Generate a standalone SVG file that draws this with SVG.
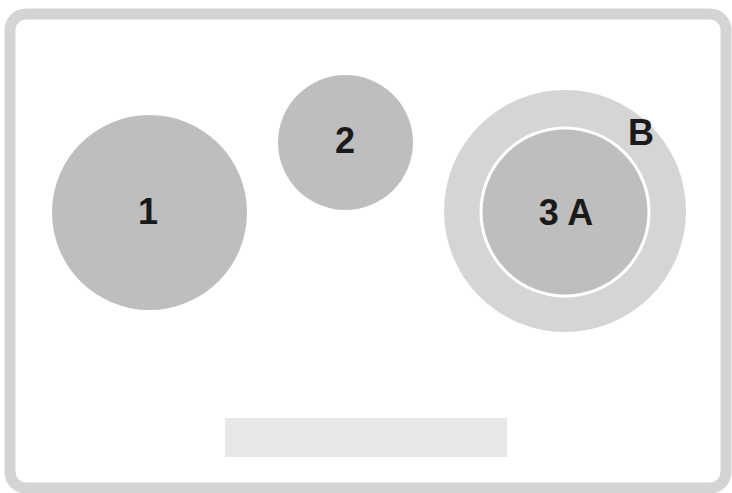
<svg xmlns="http://www.w3.org/2000/svg" width="732" height="493" viewBox="0 0 732 493">
<style>
.lbl{font-family:"Liberation Sans",Arial,sans-serif;font-weight:bold;font-size:36px;fill:#1a1a1a;text-anchor:middle}
.zone{fill:#bebebe}
</style>
<rect width="732" height="493" fill="#ffffff"/>
<g id="frame">
<rect x="10" y="14" width="716" height="474" rx="16" ry="16" fill="#ffffff" stroke="#d4d4d4" stroke-width="11"/>
</g>
<g id="zone1">
<circle class="zone" cx="149.5" cy="212.5" r="97.5"/>
<text class="lbl" x="148" y="224">1</text>
</g>
<g id="zone2">
<circle class="zone" cx="345.5" cy="142.5" r="67.5"/>
<text class="lbl" x="345" y="153">2</text>
</g>
<g id="zone3">
<circle cx="565" cy="211" r="121" fill="#d5d5d5"/>
<circle class="zone" cx="565" cy="212" r="84" stroke="#ffffff" stroke-width="3"/>
<text class="lbl" x="566" y="225">3 A</text>
<text class="lbl" x="641" y="145">B</text>
</g>
<g id="panel">
<rect x="225" y="418" width="282" height="39" fill="#e7e7e7"/>
</g>
<g id="connectors"/>
</svg>
